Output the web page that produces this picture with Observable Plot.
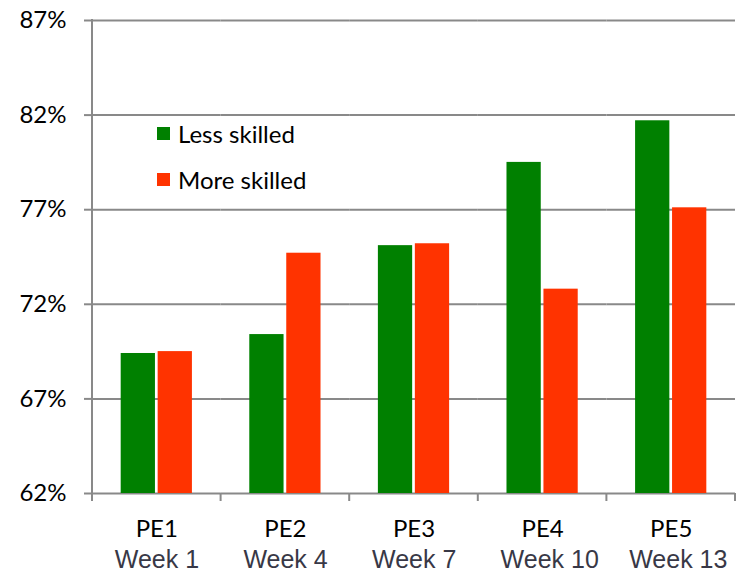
<!DOCTYPE html>
<html>
<head>
<meta charset="utf-8">
<script src="https://cdn.jsdelivr.net/npm/d3@7"></script>
<script src="https://cdn.jsdelivr.net/npm/@observablehq/plot@0.6"></script>
<style>
  body { margin: 0; background: #fff; }
  #chart { position: relative; width: 746px; height: 574px; }
  #chart svg { display: block; }
  .legend { position: absolute; left: 157px; top: 118px; font-family: Lato, "Open Sans", sans-serif; font-size: 24px; color: #000; }
  .legend .item { display: flex; align-items: center; height: 30px; margin-bottom: 16px; }
  .legend .swatch { width: 13px; height: 13px; margin-right: 8px; }
</style>
</head>
<body>
<div id="chart"></div>
<script>
// Practice exams and the week each one was taken
const exams = ["PE1", "PE2", "PE3", "PE4", "PE5"];
const weeks = ["Week 1", "Week 4", "Week 7", "Week 10", "Week 13"];
const groups = ["Less skilled", "More skilled"];
// Average score (%) per group
const lessSkilled = [69.4, 70.4, 75.1, 79.5, 81.7];
const moreSkilled = [69.5, 74.7, 75.2, 72.8, 77.1];
const yTicks = [62, 67, 72, 77, 82, 87];
const groupColors = ["#008000", "#ff3300"];

const rows = exams.flatMap((exam, i) => [
  {exam, group: groups[0], value: lessSkilled[i]},
  {exam, group: groups[1], value: moreSkilled[i]}
]);
const weekOf = new Map(exams.map((e, i) => [e, weeks[i]]));
const baseline = yTicks[0];
const gridColor = "#898989";

const chart = Plot.plot({
  width: 746,
  height: 574,
  marginTop: 20,
  marginBottom: 81,
  marginLeft: 92,
  marginRight: 11,
  style: {background: "#fff", overflow: "visible"},
  fx: {domain: exams, padding: 0, label: null, round: false},
  x: {domain: groups, paddingInner: 0.073, paddingOuter: 0.776, round: false, axis: null, label: null},
  y: {domain: [yTicks[0], yTicks[yTicks.length - 1]], label: null},
  color: {domain: groups, range: groupColors},
  marks: [
    Plot.ruleY(yTicks, {stroke: gridColor, strokeWidth: 2}),
    Plot.axisY({
      ticks: yTicks,
      tickFormat: d => d + "%",
      tickSize: 8,
      tickPadding: 18,
      stroke: gridColor,
      strokeWidth: 2,
      fill: "#000",
      fontSize: 24,
      fontFamily: "Lato, 'Open Sans', sans-serif",
      label: null
    }),
    Plot.barY(rows, {fx: "exam", x: "group", y1: baseline, y2: "value", fill: "group"}),
    // Exam names, centred under each group of bars
    Plot.axisFx({
      anchor: "bottom",
      tickSize: 0,
      tickPadding: 26,
      fill: "#000",
      fontSize: 24,
      fontFamily: "Lato, 'Open Sans', sans-serif",
      label: null
    }),
    // Week of each exam, on a second line
    Plot.axisFx({
      anchor: "bottom",
      tickSize: 0,
      tickPadding: 57,
      tickFormat: d => weekOf.get(d),
      textAnchor: "start",
      dx: -42,
      fill: "#383846",
      fontSize: 25,
      fontFamily: "'Liberation Sans', Arial, sans-serif",
      label: null
    })
  ]
});

// Category axis: vertical axis line plus boundary ticks between the exams
{
  const fxs = chart.scale("fx");
  const ys = chart.scale("y");
  const fx = d3.scaleBand(fxs.domain, fxs.range)
    .paddingInner(fxs.paddingInner ?? 0).paddingOuter(fxs.paddingOuter ?? 0);
  const y = d3.scaleLinear(ys.domain, ys.range);
  const svg = d3.select(chart);
  const bottom = y(baseline);
  const edges = fxs.domain.map(d => fx(d)).concat(fx(fxs.domain[fxs.domain.length - 1]) + fx.bandwidth());
  const g = svg.append("g").attr("stroke", gridColor).attr("stroke-width", 2);
  g.append("line")
    .attr("x1", edges[0]).attr("x2", edges[0])
    .attr("y1", y(yTicks[yTicks.length - 1]) - 1).attr("y2", bottom + 8);
  g.selectAll(".edge").data(edges.slice(1)).join("line")
    .attr("x1", d => d).attr("x2", d => d)
    .attr("y1", bottom).attr("y2", bottom + 8);
}

const container = document.getElementById("chart");
container.appendChild(chart);

// Legend inside the plot area
const legend = document.createElement("div");
legend.className = "legend";
groups.forEach((g, i) => {
  const item = document.createElement("div");
  item.className = "item";
  const sw = document.createElement("span");
  sw.className = "swatch";
  sw.style.background = groupColors[i];
  const label = document.createElement("span");
  label.textContent = g;
  item.append(sw, label);
  legend.appendChild(item);
});
container.appendChild(legend);
</script>
</body>
</html>
